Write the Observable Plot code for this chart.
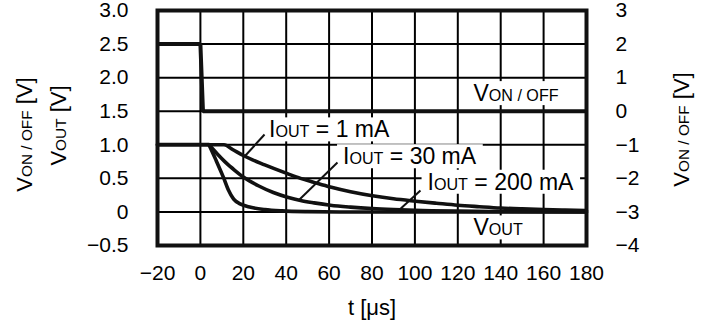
<!DOCTYPE html>
<html><head><meta charset="utf-8">
<script src="https://cdn.jsdelivr.net/npm/d3@7"></script>
<script src="https://cdn.jsdelivr.net/npm/@observablehq/plot@0.6"></script>
<style>
  html, body { margin: 0; padding: 0; background: #fff; }
  svg text { white-space: pre; }
</style>
</head>
<body>
<div id="chart"></div>
<script>
// ---- axis ticks & labels ----
const xTicks = [-20, 0, 20, 40, 60, 80, 100, 120, 140, 160, 180];
const xTickLabels = ["−20", "0", "20", "40", "60", "80", "100", "120", "140", "160", "180"];
const yTicks = [-0.5, 0, 0.5, 1.0, 1.5, 2.0, 2.5, 3.0];
const yTickLabels = ["−0.5", "0", "0.5", "1.0", "1.5", "2.0", "2.5", "3.0"];
const vonTickLabels = ["−4", "−3", "−2", "−1", "0", "1", "2", "3"];   // right axis (V_ON/OFF)

// ---- V_ON/OFF (right-axis units, V) ----
const tVon = [-20, 0, 1.2, 180];
const vVon = [2, 2, 0, 0];

// ---- V_OUT before discharge (V) ----
const tPre = [-20, 4];
const vPre = [1.0, 1.0];

// ---- V_OUT, IOUT = 200 mA ----
const t200 = [4, 7, 10.8, 13, 15.5, 18.5, 23.4, 30, 38, 50, 65, 180];
const v200 = [1.0, 0.79, 0.51, 0.33, 0.19, 0.12, 0.07, 0.035, 0.015, 0.004, 0, 0];

// ---- V_OUT, IOUT = 30 mA ----
const t30 = [4, 8, 12, 16, 20, 27, 34, 40.6, 46.7, 53, 60.6, 70, 80, 90, 100, 120, 140, 180];
const v30 = [1.0, 0.86, 0.73, 0.62, 0.52, 0.39, 0.29, 0.22, 0.17, 0.135, 0.10, 0.072, 0.05, 0.035, 0.024, 0.012, 0.006, 0];

// ---- V_OUT, IOUT = 1 mA ----
const t1 = [4, 11, 15, 20, 30, 40.6, 46.7, 53, 60.6, 70, 80.2, 90, 100.3, 110, 120, 130, 140, 150, 160, 170, 180];
const v1 = [1.0, 1.0, 0.93, 0.84, 0.70, 0.57, 0.50, 0.44, 0.37, 0.30, 0.24, 0.195, 0.16, 0.13, 0.10, 0.078, 0.058, 0.045, 0.035, 0.028, 0.022];

// ---- annotations (data units; "|" marks small-caps run) ----
const labels = ["I|OUT| = 1 mA", "I|OUT| = 30 mA", "I|OUT| = 200 mA", "V|ON / OFF|", "V|OUT|"];
const labelT = [32.0, 66.5, 105.9, 127.3, 127.3];
const labelV = [1.22, 0.82, 0.44, 1.76, -0.24];

// leader lines: from label (t1,v1) to curve (t2,v2)
const leadT1 = [29.9, 63.9, 102.6];
const leadV1 = [1.153, 0.736, 0.32];
const leadT2 = [21.0, 46.2, 92.4];
const leadV2 = [0.84, 0.185, 0.02];

const FONT = "'Liberation Sans', Arial, Helvetica, sans-serif";
const toRows = (ts, vs) => ts.map((t, i) => ({t, v: vs[i]}));
const vonRows = tVon.map((t, i) => ({t, v: (vVon[i] + 3) / 2})); // right axis onto left scale

const plot = Plot.plot({
  width: 707,
  height: 321,
  marginLeft: 157,
  marginRight: 121,
  marginTop: 10,
  marginBottom: 76,
  x: {domain: [-20, 180]},
  y: {domain: [-0.5, 3.0]},
  style: {fontFamily: FONT, fontSize: "21px", color: "black", background: "white", overflow: "visible"},
  marks: [
    Plot.axisX({ticks: xTicks, tickSize: 0, tickPadding: 20, label: null, fontSize: 21,
      tickFormat: d => xTickLabels[xTicks.indexOf(d)]}),
    Plot.axisY({anchor: "left", ticks: yTicks, tickSize: 0, tickPadding: 29, label: null, fontSize: 21,
      tickFormat: d => yTickLabels[yTicks.indexOf(d)]}),
    Plot.axisY({anchor: "right", ticks: yTicks, tickSize: 0, tickPadding: 29, label: null, fontSize: 21,
      tickFormat: d => vonTickLabels[yTicks.indexOf(d)]}),
    Plot.ruleX(xTicks, {x: d => d, stroke: "#000", strokeWidth: 2}),
    Plot.ruleY(yTicks, {y: d => d, stroke: "#000", strokeWidth: 2}),
    Plot.line(toRows(tPre, vPre), {x: "t", y: "v", stroke: "#111", strokeWidth: 4}),
    Plot.line(toRows(t200, v200), {x: "t", y: "v", curve: "monotone-x", stroke: "#111", strokeWidth: 3.6}),
    Plot.line(toRows(t30, v30), {x: "t", y: "v", curve: "monotone-x", stroke: "#111", strokeWidth: 3.6}),
    Plot.line(toRows(t1, v1), {x: "t", y: "v", curve: "monotone-x", stroke: "#111", strokeWidth: 3.6}),
    Plot.line(vonRows, {x: "t", y: "v", stroke: "#111", strokeWidth: 4, strokeLinejoin: "miter", strokeLinecap: "butt"}),
    Plot.frame({stroke: "#111", strokeWidth: 4}),
    Plot.text(labels, {x: (d, i) => labelT[i], y: (d, i) => labelV[i], text: d => d,
      textAnchor: "start", fontSize: 23, fill: "black", ariaDescription: "boxed"}),
    Plot.link(leadT1, {x1: (d, i) => leadT1[i], y1: (d, i) => leadV1[i], x2: (d, i) => leadT2[i], y2: (d, i) => leadV2[i],
      stroke: "#111", strokeWidth: 2}),
    Plot.text(["V|ON / OFF| [V]"], {frameAnchor: "left", textAnchor: "middle", dx: -133, dy: 6.5, rotate: -90, fontSize: 22}),
    Plot.text(["V|OUT| [V]"], {frameAnchor: "left", textAnchor: "middle", dx: -99, dy: -2.5, rotate: -90, fontSize: 22}),
    Plot.text(["V|ON / OFF| [V]"], {frameAnchor: "right", textAnchor: "middle", dx: 95, dy: 1.5, rotate: -90, fontSize: 22}),
    Plot.text(["t [μs]"], {frameAnchor: "bottom", lineAnchor: "middle", dy: 62, fontSize: 22})
  ]
});

document.getElementById("chart").appendChild(plot);

// small-caps runs
d3.select(plot).selectAll("text").each(function () {
  const s = this.textContent;
  if (!s.includes("|")) return;
  const parts = s.split("|");
  const sel = d3.select(this);
  sel.text(null);
  parts.forEach((p, i) => {
    if (!p) return;
    const ts = sel.append("tspan").text(p);
    if (i % 2 === 1) ts.attr("font-size", "70%");
  });
});

// white boxes behind in-plot labels
d3.select(plot).selectAll('g[aria-description="boxed"] text').each(function () {
  const b = this.getBBox();
  const r = document.createElementNS("http://www.w3.org/2000/svg", "rect");
  r.setAttribute("x", b.x - 6);
  r.setAttribute("y", b.y + 1);
  r.setAttribute("width", b.width + 12);
  r.setAttribute("height", b.height - 2);
  r.setAttribute("fill", "white");
  const tr = this.getAttribute("transform");
  if (tr) r.setAttribute("transform", tr);
  this.parentNode.insertBefore(r, this);
});
</script>
</body></html>
